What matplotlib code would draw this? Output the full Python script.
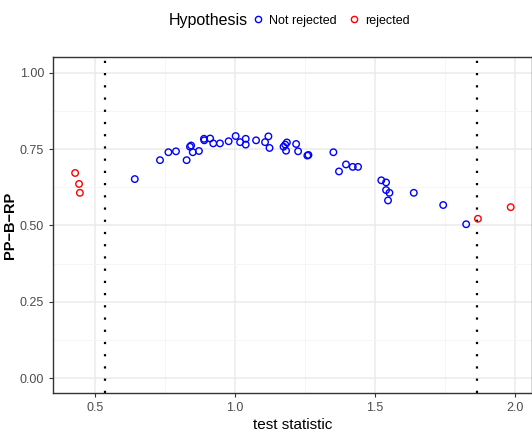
import matplotlib
matplotlib.use("Agg")
import matplotlib.pyplot as plt
from matplotlib.ticker import MultipleLocator
from matplotlib.lines import Line2D

plt.rcParams['font.family'] = ['Liberation Sans Narrow', 'Liberation Sans', 'DejaVu Sans']

# not rejected hypotheses
x_ok = [0.642, 0.732, 0.762, 0.789, 0.827, 0.839, 0.843, 0.849, 0.871, 0.889,
        0.890, 0.911, 0.922, 0.946, 0.977, 1.002, 1.018, 1.038, 1.038, 1.075,
        1.107, 1.119, 1.123, 1.173, 1.179, 1.185, 1.182, 1.218, 1.225, 1.258,
        1.262, 1.351, 1.371, 1.396, 1.420, 1.439, 1.522, 1.539, 1.539, 1.551,
        1.546, 1.638, 1.743, 1.825]
y_ok = [0.652, 0.714, 0.740, 0.743, 0.714, 0.758, 0.762, 0.740, 0.744, 0.784,
        0.779, 0.785, 0.769, 0.769, 0.776, 0.793, 0.773, 0.784, 0.765, 0.779,
        0.773, 0.792, 0.754, 0.758, 0.765, 0.772, 0.745, 0.767, 0.743, 0.729,
        0.731, 0.740, 0.677, 0.700, 0.692, 0.692, 0.648, 0.641, 0.616, 0.607,
        0.582, 0.607, 0.567, 0.504]

# rejected hypotheses
x_rej = [0.429, 0.443, 0.446, 1.867, 1.984]
y_rej = [0.672, 0.636, 0.607, 0.522, 0.560]

# critical values
crit = [0.536, 1.864]

fig = plt.figure(figsize=(5.32, 4.32), dpi=100)
ax = fig.add_axes([0.0996, 0.0903, 0.9004, 0.7777])

ax.set_xlim(0.35, 2.06)
ax.set_ylim(-0.049, 1.052)
ax.xaxis.set_major_locator(MultipleLocator(0.5))
ax.xaxis.set_minor_locator(MultipleLocator(0.25))
ax.yaxis.set_major_locator(MultipleLocator(0.25))
ax.yaxis.set_minor_locator(MultipleLocator(0.125))
ax.grid(which='major', color='#EBEBEB', lw=1.1)
ax.grid(which='minor', color='#F4F4F4', lw=0.6)
ax.set_axisbelow(True)
ax.set_yticks([0, 0.25, 0.5, 0.75, 1.0])
ax.set_yticklabels(['0.00', '0.25', '0.50', '0.75', '1.00'])
ax.tick_params(which='major', length=3, color='#333333', labelcolor='#4D4D4D', labelsize=9)
ax.tick_params(which='minor', length=0)
for s in ax.spines.values():
    s.set_color('#333333')
    s.set_linewidth(1.0)

for c in crit:
    ax.axvline(c, color='black', lw=1.6, linestyle=(0, (1, 4.5)))

ax.scatter(x_ok, y_ok, s=22, facecolors='none', edgecolors='blue', linewidths=1.0, zorder=3)
ax.scatter(x_rej, y_rej, s=22, facecolors='none', edgecolors='red', linewidths=1.0, zorder=3)

ax.set_xlabel('test statistic', fontsize=11, labelpad=3)
ax.set_ylabel('PP\u2212B\u2212RP', fontsize=10.5, fontweight='bold')
ax.yaxis.set_label_coords(-0.075, 0.5)

fig.text(0.466, 0.952, 'Hypothesis', fontsize=11.5, ha='right', va='center')
handles = [Line2D([], [], ls='none', marker='o', mfc='none', mec='blue', ms=4.5, mew=1.0),
           Line2D([], [], ls='none', marker='o', mfc='none', mec='red', ms=4.5, mew=1.0)]
fig.legend(handles, ['Not rejected', 'rejected'], ncol=2, frameon=False,
           loc='center left', bbox_to_anchor=(0.475, 0.952), fontsize=9,
           handlelength=0.8, handletextpad=0.5, columnspacing=1.0, borderpad=0,
           borderaxespad=0)

fig.savefig('out.png', dpi=100)
